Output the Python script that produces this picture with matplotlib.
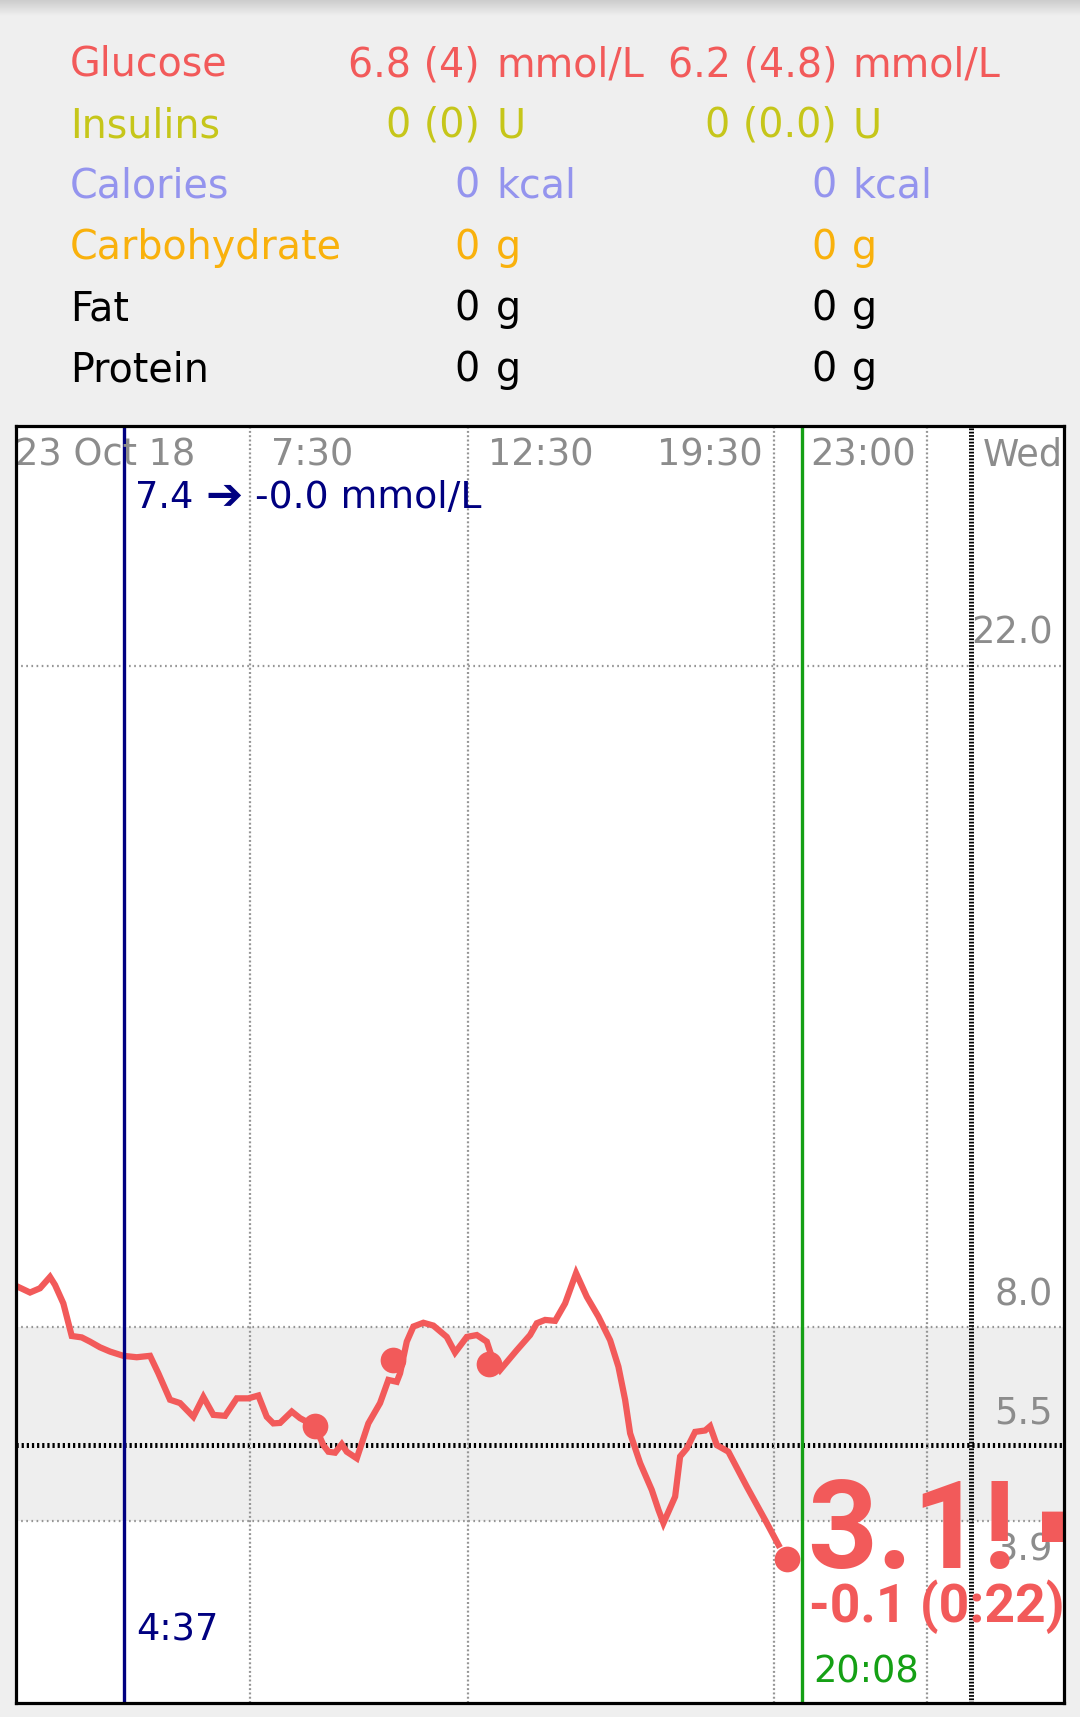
import matplotlib
matplotlib.use('Agg')
import matplotlib.pyplot as plt
import numpy as np
from matplotlib.transforms import blended_transform_factory, offset_copy

plt.rcParams['lines.scale_dashes'] = False

# ---------------- data ----------------
header_labels = ['Glucose', 'Insulins', 'Calories', 'Carbohydrate', 'Fat', 'Protein']
header_col1_values = ['6.8 (4)', '0 (0)', '0', '0', '0', '0']
header_col1_units = ['mmol/L', 'U', 'kcal', 'g', 'g', 'g']
header_col2_values = ['6.2 (4.8)', '0 (0.0)', '0', '0', '0', '0']
header_col2_units = ['mmol/L', 'U', 'kcal', 'g', 'g', 'g']
header_colors = ['#F25A5A', '#C6C61A', '#9494EE', '#F9B10C', '#000000', '#000000']

time_labels = ['23 Oct 18', '7:30', '12:30', '19:30', '23:00', 'Wed']
grid_times = [7.5, 12.5, 19.5, 23.0]
midnight = 24.0

ref_levels = [22.0, 8.0, 3.9]
ref_labels = ['22.0', '8.0', '3.9']
target_low, target_high = 3.9, 8.0
target_mid = 5.5
target_mid_label = '5.5'

cgm_times = [2.143, 2.463, 2.692, 2.921, 3.036, 3.226, 3.418, 3.647, 3.837, 4.066,
             4.295, 4.599, 4.906, 5.211, 5.401, 5.668, 5.897, 6.202, 6.431, 6.660,
             6.928, 7.196, 7.461, 7.690, 7.882, 8.033, 8.187, 8.455, 8.645, 8.988,
             9.178, 9.293, 9.446, 9.599, 9.714, 9.943, 10.208, 10.476, 10.666, 10.858,
             10.934, 11.087, 11.239, 11.467, 11.696, 12.003, 12.193, 12.461, 12.690, 12.919,
             13.033, 13.224, 13.606, 13.910, 14.064, 14.254, 14.483, 14.712, 14.963, 15.208,
             15.474, 15.742, 15.932, 16.085, 16.200, 16.429, 16.696, 16.848, 16.962, 17.230,
             17.344, 17.498, 17.688, 17.917, 18.031, 18.184, 18.450, 18.871, 19.329, 19.595]
cgm_values = [8.87, 8.73, 8.82, 9.06, 8.89, 8.50, 7.81, 7.78, 7.69, 7.57,
              7.48, 7.39, 7.36, 7.39, 7.02, 6.46, 6.39, 6.10, 6.52, 6.14,
              6.12, 6.49, 6.49, 6.55, 6.10, 5.96, 5.97, 6.21, 6.07, 5.90,
              5.50, 5.36, 5.34, 5.52, 5.36, 5.22, 5.96, 6.39, 6.88, 6.84,
              7.02, 7.69, 8.01, 8.09, 8.03, 7.79, 7.46, 7.79, 7.83, 7.69,
              7.37, 7.09, 7.51, 7.83, 8.08, 8.15, 8.13, 8.50, 9.14, 8.64,
              8.22, 7.72, 7.16, 6.46, 5.75, 5.12, 4.55, 4.13, 3.85, 4.41,
              5.26, 5.43, 5.78, 5.81, 5.90, 5.50, 5.36, 4.62, 3.85, 3.39]
meter_times = [8.99, 10.78, 12.96, 19.79]
meter_values = [5.90, 7.30, 7.22, 3.10]

cursor_time = 4 + 37 / 60
cursor_label = '4:37'
cursor_value = '7.4'
cursor_arrow = '\u2794'
cursor_delta = '-0.0 mmol/L'
now_time = 20 + 8 / 60
now_label = '20:08'
current_value = '3.1!'
current_delta = '-0.1 (0:22)'
trend_arrow = '\u27A1'

# ---------------- layout ----------------
W, H = 1080, 1717
DPI = 100
fig = plt.figure(figsize=(W / DPI, H / DPI), dpi=DPI, facecolor='#EFEFEF')

REG = ['DejaVu Sans']
BOLD = ['Roboto', 'DejaVu Sans']
FS = 26.5
HFS = 28.5
RED = '#F25A5A'
NAVY = '#000080'
GREEN = '#15A015'
GREY_TXT = '#8C8C8C'

def fx(x):
    return x / W

def fy(y):
    return 1 - y / H

# top shadow
sh = fig.add_axes([0, fy(16), 1, 16 / H])
grad = np.linspace(0.80, 0.937, 64).reshape(-1, 1)
sh.imshow(grad, cmap='gray', vmin=0, vmax=1, aspect='auto', extent=(0, 1, 1, 0))
sh.set_axis_off()

# header table
row_base = [76, 137, 198, 259, 320, 381]
for i, lab in enumerate(header_labels):
    c = header_colors[i]
    yb = fy(row_base[i])
    fig.text(fx(70), yb, lab, color=c, fontsize=HFS, family=REG, va='baseline', ha='left')
    fig.text(fx(480), yb, header_col1_values[i], color=c, fontsize=HFS, family=REG, va='baseline', ha='right')
    fig.text(fx(496), yb, header_col1_units[i], color=c, fontsize=HFS, family=REG, va='baseline', ha='left')
    fig.text(fx(837), yb, header_col2_values[i], color=c, fontsize=HFS, family=REG, va='baseline', ha='right')
    fig.text(fx(852), yb, header_col2_units[i], color=c, fontsize=HFS, family=REG, va='baseline', ha='left')

# chart axes
AX_L, AX_R, AX_T, AX_B = 15.5, 1063.5, 426, 1703
ax = fig.add_axes([fx(AX_L), 1 - AX_B / H, (AX_R - AX_L) / W, (AX_B - AX_T) / H])
ax.set_facecolor('white')
ax.set_xlim(2.131, 26.12)
ax.set_ylim(0.042, 27.07)
ax.set_xticks([])
ax.set_yticks([])
for s in ax.spines.values():
    s.set_linewidth(2.3)
    s.set_color('black')
    s.set_zorder(20)

def afrac(y):
    return (AX_B - y) / (AX_B - AX_T)

bt = blended_transform_factory(ax.transData, ax.transAxes)

# target band
ax.axhspan(target_low, target_high, color='#EEEEEE', zorder=0, lw=0)

# horizontal reference lines
for lv in ref_levels:
    ax.axhline(lv, color='#959595', lw=1.6, dashes=(1.2, 2.5), zorder=2)
ax.axhline(target_mid, color='black', lw=3.6, dashes=(1.6, 2.1), zorder=2)

# vertical grid lines
for t in grid_times:
    ax.axvline(t, color='#959595', lw=1.6, dashes=(1.4, 1.7), zorder=2)
ax.axvline(midnight, color='black', lw=3.6, dashes=(1.25, 1.15), zorder=2)

# glucose line and meter readings
ax.plot(cgm_times, cgm_values, color=RED, lw=4.5, solid_joinstyle='miter', zorder=5)
ax.plot(meter_times, meter_values, 'o', color=RED, ms=18.5, mec='none', zorder=6)

# cursor + now lines
ax.axvline(cursor_time, color=NAVY, lw=2.4, zorder=7)
ax.axvline(now_time, color=GREEN, lw=2.4, zorder=7)

# time labels across top
time_label_x = [2.109, 7.98, 12.949, 16.818, 20.32, 24.28]
for t, lab in zip(time_label_x, time_labels):
    ax.text(t, afrac(465), lab, transform=bt, color=GREY_TXT, fontsize=FS, family=REG,
            ha='left', va='baseline', zorder=8, clip_on=True)

# y reference labels
for lv, lab in zip(ref_levels + [target_mid], ref_labels + [target_mid_label]):
    if lab == '3.9':
        ax.annotate(lab, xy=(1, lv), xycoords=('axes fraction', 'data'), xytext=(-11, -11),
                    textcoords='offset pixels', ha='right', va='top', color=GREY_TXT,
                    fontsize=FS, family=REG, zorder=8)
    else:
        ax.annotate(lab, xy=(1, lv), xycoords=('axes fraction', 'data'), xytext=(-11, 22),
                    textcoords='offset pixels', ha='right', va='baseline', color=GREY_TXT,
                    fontsize=FS, family=REG, zorder=8)

def off(dx, dy=0):
    return offset_copy(bt, fig=fig, x=dx, y=dy, units='dots')

# cursor texts
ax.text(cursor_time, afrac(508), cursor_value, transform=off(11), color=NAVY, fontsize=FS,
        family=REG, ha='left', va='baseline', zorder=9)
ax.text(cursor_time, afrac(508), cursor_arrow, transform=off(81), color=NAVY, fontsize=32,
        family=REG, ha='left', va='baseline', zorder=9)
ax.text(cursor_time, afrac(508), cursor_delta, transform=off(131), color=NAVY, fontsize=27.2,
        family=REG, ha='left', va='baseline', zorder=9)
ax.text(cursor_time, afrac(1640), cursor_label, transform=off(12), color=NAVY, fontsize=FS,
        family=REG, ha='left', va='baseline', zorder=9)

# current value texts
ax.text(now_time, afrac(1568), current_value, transform=off(5), color=RED, fontsize=88,
        family=BOLD, fontweight='bold', ha='left', va='baseline', zorder=10)
ax.text(now_time, afrac(1622), current_delta, transform=off(7), color=RED, fontsize=38.5,
        family=BOLD, fontweight='bold', ha='left', va='baseline', zorder=10)
ax.text(now_time, afrac(1566), trend_arrow, transform=off(232), color=RED, fontsize=88,
        family=['DejaVu Sans'], fontweight='bold', ha='left', va='baseline', zorder=10,
        clip_on=True)
ax.text(now_time, afrac(1682), now_label, transform=off(11), color=GREEN, fontsize=FS,
        family=REG, ha='left', va='baseline', zorder=9)

fig.savefig('out.png', dpi=DPI, facecolor=fig.get_facecolor())
